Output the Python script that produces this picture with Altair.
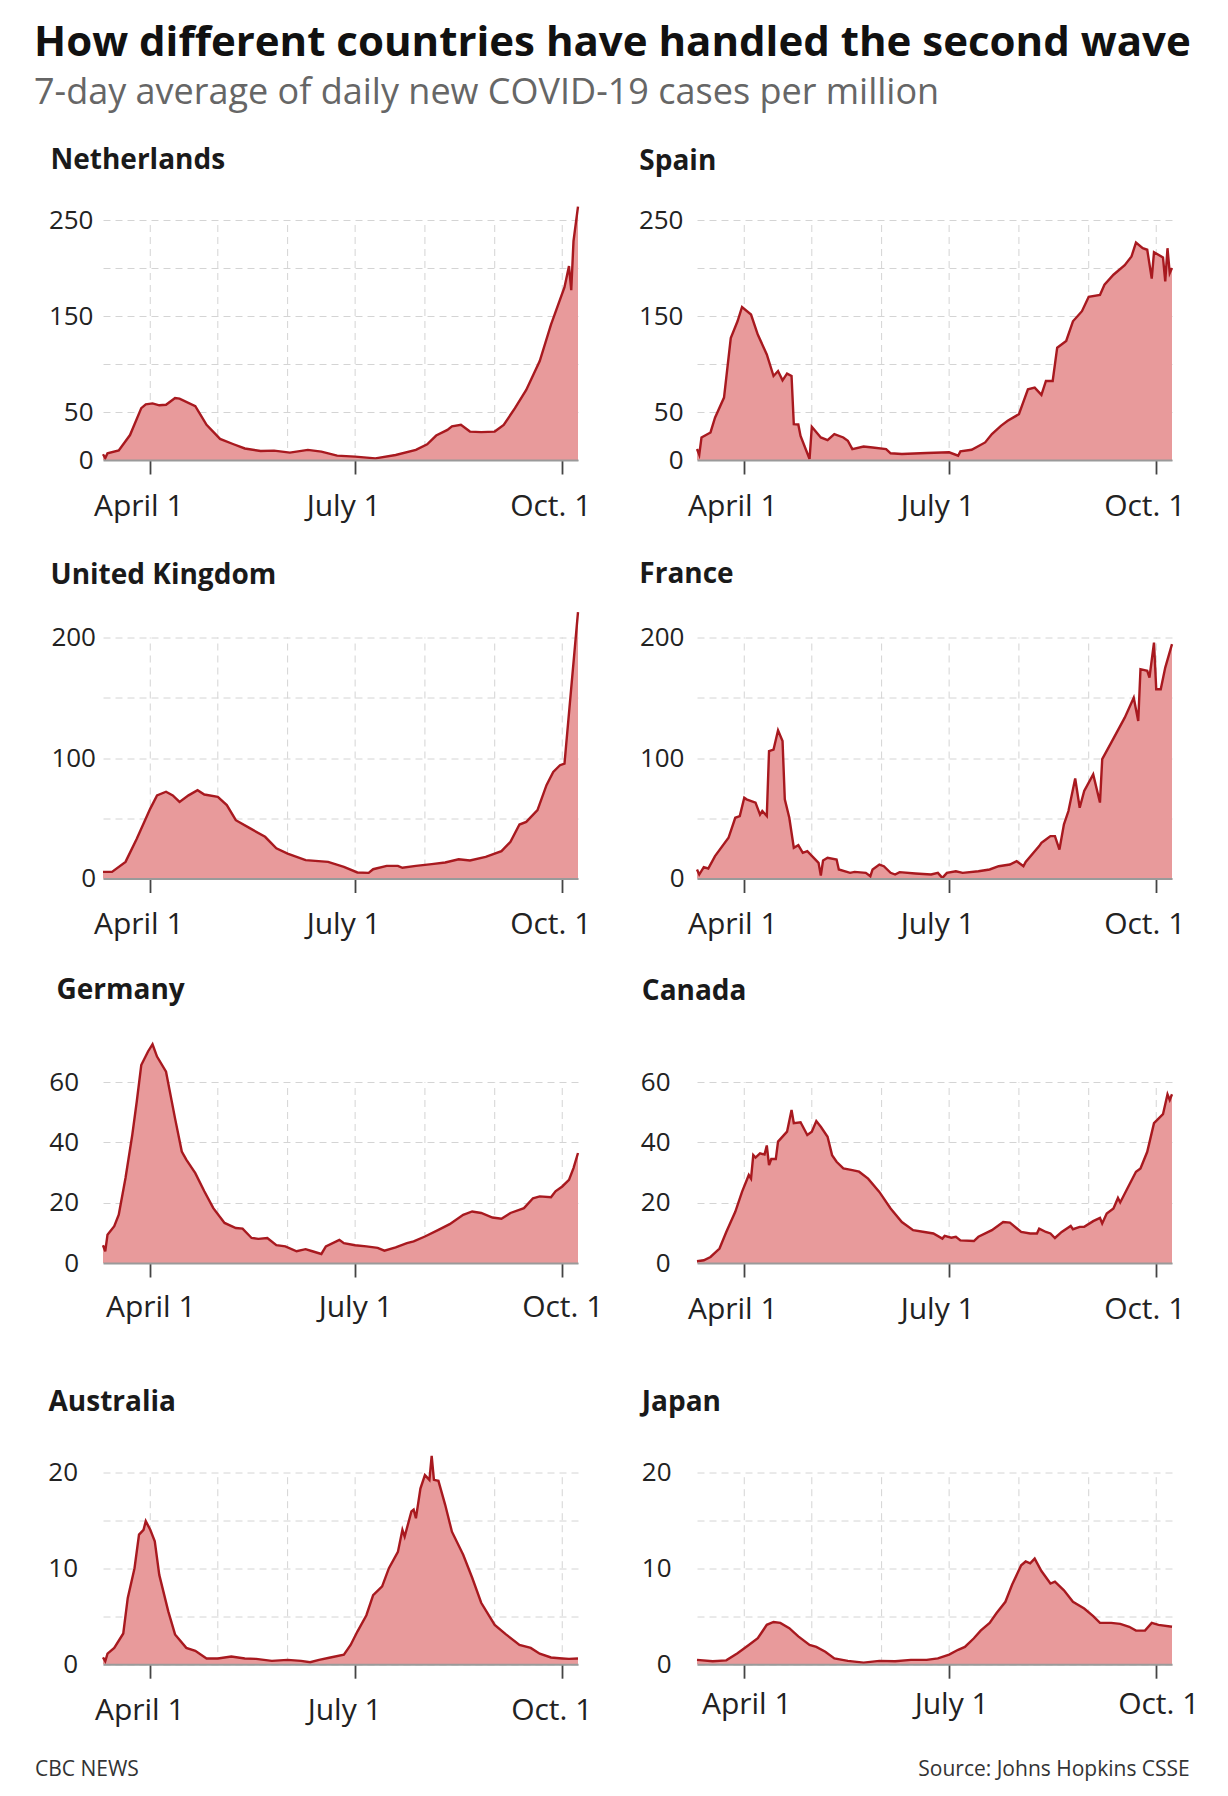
import altair as alt
import pandas as pd

YEAR = "2020-"
X_START = "03-11"
X_END = "10-08"
month_starts = ["04-01", "05-01", "06-01", "07-01", "08-01", "09-01", "10-01"]
tick_dates = ["04-01", "07-01", "10-01"]
tick_labels = ["April 1", "July 1", "Oct. 1"]

nl_dates = ["03-11", "03-12", "03-13", "03-18", "03-23", "03-28", "03-30", "04-02", "04-05", "04-08",
            "04-12", "04-14", "04-21", "04-26", "05-02", "05-08", "05-13", "05-20", "05-26", "06-02",
            "06-10", "06-16", "06-23", "07-01", "07-10", "07-19", "07-28", "08-02", "08-06", "08-11",
            "08-13", "08-17", "08-21", "08-26", "09-01", "09-05", "09-10", "09-15", "09-21", "09-26",
            "10-02", "10-04", "10-05", "10-06", "10-08"]
nl_values = [6, 2, 7, 10, 26, 54, 58, 59, 57, 57.5,
             64.5, 64, 56, 36.6, 22, 16.4, 12, 9.4, 9.8, 7.7,
             10.5, 8.7, 4.5, 3.5, 1.7, 5.2, 10.5, 16.4, 25.5, 31.4,
             35, 36.6, 29.6, 29, 29.6, 36.6, 54, 73, 103, 141,
             180, 202, 177, 228, 264]

es_dates = ["03-11", "03-12", "03-13", "03-17", "03-19", "03-23", "03-26", "03-29", "03-31", "04-04",
            "04-07", "04-11", "04-14", "04-16", "04-18", "04-20", "04-22", "04-23", "04-25", "04-26",
            "04-30", "05-01", "05-05", "05-08", "05-11", "05-15", "05-17", "05-19", "05-24", "05-28",
            "06-03", "06-05", "06-10", "06-21", "07-01", "07-05", "07-06", "07-11", "07-17", "07-20",
            "07-24", "07-27", "08-01", "08-05", "08-08", "08-11", "08-13", "08-16", "08-18", "08-22",
            "08-25", "08-29", "09-01", "09-06", "09-08", "09-12", "09-17", "09-20", "09-22", "09-25",
            "09-27", "09-29", "09-30", "10-04", "10-05", "10-06", "10-07", "10-08"]
es_values = [11.4, 5.5, 23.5, 28.7, 44, 65, 127, 144.5, 159.4, 151.5,
             130.7, 110, 87.5, 92.7, 83, 90, 87.5, 37.3, 37, 25,
             1, 34.6, 23.5, 20.7, 27, 23.5, 20, 11.4, 14, 13,
             11.4, 7, 6.2, 7.3, 8, 4.5, 9, 10.7, 18.3, 27,
             35.6, 40.8, 47.7, 73.6, 75.4, 67.8, 82.3, 82.3, 117, 124,
             144.5, 155, 170, 172, 182.6, 193, 203, 212, 226.5, 220.6,
             219, 189, 216.5, 211, 186, 220.6, 194.7, 200]

uk_dates = ["03-11", "03-15", "03-21", "03-26", "04-01", "04-04", "04-08", "04-11", "04-14", "04-18",
            "04-22", "04-25", "05-01", "05-05", "05-09", "05-15", "05-22", "05-27", "06-01", "06-09",
            "06-19", "06-26", "07-02", "07-07", "07-09", "07-15", "07-20", "07-22", "07-28", "08-04",
            "08-10", "08-16", "08-21", "08-28", "09-04", "09-08", "09-12", "09-15", "09-20", "09-24",
            "09-27", "09-30", "10-02", "10-08"]
uk_values = [5.5, 5.5, 13.8, 33, 58, 69, 72, 69, 63.6, 69,
             73.3, 69.7, 67.8, 60.9, 48.4, 42, 34.6, 25, 20.7, 15.2,
             13.8, 9.7, 5, 4.7, 7.7, 10.5, 10.5, 8.9, 10.5, 11.9,
             13.3, 16, 15, 18, 22.7, 30.4, 44.8, 47, 56.7, 77.5,
             88.5, 94, 95.4, 221]

fr_dates = ["03-11", "03-12", "03-14", "03-16", "03-19", "03-25", "03-28", "03-30", "04-01", "04-02",
            "04-06", "04-08", "04-09", "04-11", "04-12", "04-14", "04-16", "04-18", "04-19", "04-21",
            "04-23", "04-25", "04-27", "04-29", "05-04", "05-05", "05-06", "05-08", "05-12", "05-13",
            "05-18", "05-20", "05-25", "05-27", "05-28", "05-31", "06-02", "06-05", "06-07", "06-09",
            "06-16", "06-23", "06-26", "06-28", "06-30", "07-04", "07-07", "07-14", "07-19", "07-23",
            "07-28", "07-31", "08-03", "08-04", "08-10", "08-11", "08-13", "08-15", "08-17", "08-19",
            "08-21", "08-23", "08-26", "08-28", "08-30", "09-03", "09-06", "09-07", "09-11", "09-17",
            "09-21", "09-23", "09-24", "09-27", "09-28", "09-30", "10-01", "10-03", "10-05", "10-08"]
fr_values = [7.5, 3.3, 9.4, 8.3, 18.6, 33.8, 50.4, 51.8, 67, 65.7,
             63, 53, 56, 51.8, 105.8, 107, 123, 114, 65.7, 50.4,
             25.5, 27.7, 21.3, 22.7, 13, 2.5, 15, 17.2, 15.8, 7.5,
             4.7, 5.5, 4.7, 1.9, 7.5, 11.6, 10.2, 4.7, 3.3, 5.3,
             4.2, 3.3, 4.7, 0.5, 4.7, 6, 4.7, 6, 7.5, 10.2,
             11.6, 14.4, 10.2, 13.8, 26.9, 29.6, 32.4, 35.2, 35.2, 24,
             44.9, 56, 83, 58.7, 72.6, 86.4, 63, 99, 112.7, 133.5,
             150, 130.7, 173.7, 172.3, 166.8, 195.8, 157, 157, 175, 194.5]

de_dates = ["03-11", "03-12", "03-13", "03-16", "03-18", "03-21", "03-24", "03-26", "03-28", "03-31",
            "04-02", "04-04", "04-08", "04-12", "04-15", "04-17", "04-21", "04-25", "04-29", "05-04",
            "05-09", "05-12", "05-16", "05-19", "05-23", "05-27", "05-31", "06-05", "06-09", "06-12",
            "06-16", "06-18", "06-24", "06-26", "07-01", "07-06", "07-11", "07-14", "07-19", "07-24",
            "07-27", "08-01", "08-07", "08-12", "08-18", "08-22", "08-26", "08-31", "09-04", "09-08",
            "09-14", "09-18", "09-21", "09-26", "09-28", "10-01", "10-04", "10-06", "10-08"]
de_values = [5.9, 3.9, 9.4, 12.2, 16, 28.2, 42.5, 53.6, 65.7, 70.2,
             72.6, 68.5, 63.5, 48, 37, 34.3, 29.8, 23.8, 18.2, 13.3,
             11.6, 11.4, 8.3, 8, 8.3, 5.9, 5.5, 3.9, 4.6, 3.9,
             3, 5.5, 7.7, 6.6, 5.9, 5.5, 5, 4.1, 5.2, 6.6,
             7.2, 8.8, 11, 12.9, 16, 17.1, 16.6, 15.1, 14.7, 16.6,
             18.2, 21.5, 22.1, 21.8, 23.8, 25.4, 27.6, 31.5, 36.5]

ca_dates = ["03-11", "03-14", "03-17", "03-21", "03-24", "03-28", "03-31", "04-03", "04-04", "04-05",
            "04-06", "04-08", "04-10", "04-11", "04-12", "04-13", "04-15", "04-16", "04-20", "04-22",
            "04-23", "04-26", "04-29", "05-01", "05-03", "05-05", "05-08", "05-10", "05-12", "05-15",
            "05-19", "05-22", "05-26", "05-31", "06-05", "06-10", "06-15", "06-20", "06-24", "06-28",
            "06-29", "07-02", "07-04", "07-06", "07-12", "07-14", "07-20", "07-25", "07-28", "08-02",
            "08-06", "08-09", "08-10", "08-13", "08-15", "08-17", "08-20", "08-24", "08-25", "08-28",
            "08-30", "09-03", "09-06", "09-07", "09-09", "09-12", "09-14", "09-15", "09-18", "09-22",
            "09-24", "09-27", "09-30", "10-04", "10-06", "10-07", "10-08"]
ca_values = [0.6, 0.9, 2, 4.8, 10.3, 17, 23.6, 29.2, 28, 35.8,
             35, 36.4, 36, 39, 32.5, 34.5, 34.5, 40.3, 43.6, 50.8,
             46.4, 46.7, 42.5, 43.6, 47.1, 45.2, 41.9, 35.8, 33.6, 31.4,
             30.8, 30.3, 28, 23.6, 18.1, 13.6, 10.9, 10.3, 9.8, 8.1,
             9, 8.4, 8.7, 7.5, 7.3, 8.7, 10.9, 13.6, 13.4, 10.3,
             9.8, 9.8, 11.4, 10.3, 9.8, 8.3, 10.3, 12.3, 11.2, 12,
             12, 13.9, 15, 13.1, 16.4, 18.1, 21.6, 20.1, 24.5, 30.3,
             31.4, 36.9, 46.4, 49.4, 56, 54.1, 56]

au_dates = ["03-11", "03-12", "03-13", "03-16", "03-20", "03-22", "03-25", "03-27", "03-29", "03-30",
            "04-01", "04-03", "04-05", "04-09", "04-12", "04-17", "04-21", "04-26", "05-01", "05-07",
            "05-13", "05-18", "05-25", "06-01", "06-07", "06-11", "06-15", "06-20", "06-26", "06-29",
            "07-02", "07-06", "07-09", "07-13", "07-16", "07-20", "07-22", "07-23", "07-26", "07-27",
            "07-28", "07-30", "08-01", "08-03", "08-04", "08-05", "08-07", "08-10", "08-13", "08-18",
            "08-22", "08-26", "09-01", "09-06", "09-12", "09-17", "09-21", "09-26", "10-01", "10-04",
            "10-08"]
au_values = [0.7, 0.3, 1.1, 1.7, 3.2, 6.9, 10, 13.5, 14, 14.9,
             14, 12.8, 9.3, 5.5, 3.1, 1.7, 1.4, 0.6, 0.6, 0.8,
             0.6, 0.55, 0.35, 0.45, 0.35, 0.2, 0.45, 0.7, 1, 2,
             3.4, 5.1, 7.2, 8.1, 10, 11.7, 14, 13.3, 15.9, 16.1,
             15.2, 18.3, 19.7, 19.2, 21.7, 19.2, 19.1, 16.6, 13.8, 11.4,
             9, 6.4, 4.1, 3.1, 2, 1.7, 1.1, 0.7, 0.6, 0.55,
             0.6]

jp_dates = ["03-11", "03-18", "03-24", "03-29", "04-03", "04-07", "04-11", "04-14", "04-17", "04-21",
            "04-25", "04-30", "05-03", "05-07", "05-11", "05-17", "05-24", "05-31", "06-07", "06-14",
            "06-21", "06-26", "07-01", "07-05", "07-08", "07-12", "07-15", "07-19", "07-22", "07-26",
            "07-29", "08-02", "08-04", "08-06", "08-08", "08-11", "08-15", "08-17", "08-21", "08-25",
            "08-30", "09-03", "09-06", "09-11", "09-15", "09-19", "09-22", "09-26", "09-29", "10-02",
            "10-08"]
jp_values = [0.45, 0.3, 0.4, 1.15, 2, 2.7, 4.1, 4.4, 4.3, 3.75,
             2.9, 2, 1.8, 1.3, 0.6, 0.35, 0.17, 0.35, 0.3, 0.45,
             0.45, 0.6, 1, 1.5, 1.8, 2.7, 3.5, 4.3, 5.3, 6.5,
             8.3, 10.3, 10.7, 10.5, 11, 9.7, 8.4, 8.6, 7.7, 6.5,
             5.8, 5, 4.3, 4.3, 4.2, 3.9, 3.5, 3.5, 4.3, 4.1,
             3.9]

FILL = "#e89a9b"
LINE = "#a8191f"
GRID = "#d4d4d4"
FONT = "Open Sans"
PLOT_W = 475


def iso(md):
    return YEAR + md + "T00:00:00"


def dt(md):
    m, d = md.split("-")
    return alt.DateTime(year=2020, month=int(m), date=int(d))


x_label_expr = " : ".join(
    f"month(datum.value) == {int(d.split('-')[0]) - 1} ? '{lab}'" for d, lab in zip(tick_dates[:-1], tick_labels[:-1])
) + f" : '{tick_labels[-1]}'"


def panel(name, dates, values, grid_vals, label_vals, ymax, height, title_dx, title_offset,
          ylab_pad, xlab_dx, xlab_pad, footer=None, footer_x=0, footer_align="left"):
    df = pd.DataFrame({"date": [iso(d) for d in dates], "value": values})
    months = pd.DataFrame({"date": [iso(d) for d in month_starts],
                           "value": [0] * len(month_starts),
                           "hi": [grid_vals[-1]] * len(month_starts)})
    xscale = alt.Scale(domain=[dt(X_START), dt(X_END)], nice=False)
    yscale = alt.Scale(domain=[0, ymax], nice=False, zero=True)

    label_test = " || ".join(f"datum.value == {v}" for v in label_vals)
    xaxis_kwargs = dict(
        values=[dt(d) for d in tick_dates], labelExpr=x_label_expr, grid=False,
        domain=True, domainColor="#9a9a9a", domainWidth=2,
        ticks=True, tickSize=14, tickColor="#444", tickWidth=1.8,
        labelFontSize=30, labelFont=FONT, labelColor="#222",
        labelPadding=xlab_pad, labelOffset=xlab_dx, labelBaseline="middle",
        labelFlush=False, labelOverlap=False, zindex=1,
    )
    if footer:
        xaxis_kwargs.update(titleX=footer_x, titleY=105, titleAlign=footer_align, titleBaseline="middle",
                            titleFontSize=21, titleFontWeight="normal", titleColor="#333", titleFont=FONT)
    xaxis = alt.Axis(**xaxis_kwargs)
    yaxis = alt.Axis(
        values=grid_vals, labelExpr=f"({label_test}) ? datum.label : ''",
        grid=True, gridColor=GRID, gridDash=[7, 5], gridWidth=1,
        domain=False, ticks=False, labelFontSize=26, labelFont=FONT, labelColor="#222",
        labelPadding=ylab_pad, zindex=0)
    xtitle = footer if footer else None

    vgrid = alt.Chart(months).mark_rule(color=GRID, strokeDash=[7, 5], strokeWidth=1).encode(
        x=alt.X("date:T", scale=xscale, title=xtitle, axis=xaxis),
        y=alt.Y("value:Q", scale=yscale, title=None, axis=yaxis),
        y2="hi:Q",
    )

    area = alt.Chart(df).mark_area(
        color=FILL, opacity=1, line=alt.OverlayMarkDef(color=LINE, strokeWidth=2.4)
    ).encode(
        x=alt.X("date:T", scale=xscale, title=xtitle, axis=xaxis),
        y=alt.Y("value:Q", scale=yscale, title=None, axis=yaxis),
    )

    return alt.layer(vgrid, area).properties(
        width=PLOT_W, height=height,
        title=alt.TitleParams(text=name, anchor="start", frame="group", dx=title_dx, offset=title_offset,
                              fontSize=28, font=FONT, fontWeight="bold", color="#1a1a1a"),
    )


panels = [
    panel("Netherlands", nl_dates, nl_values, [0, 50, 100, 150, 200, 250], [0, 50, 150, 250], 250, 240,
          -52.5, 26.5, 10, -12, 32),
    panel("Spain", es_dates, es_values, [0, 50, 100, 150, 200, 250], [0, 50, 150, 250], 250, 240,
          -57.7, 31.5, 14, -12, 32),
    panel("United Kingdom", uk_dates, uk_values, [0, 50, 100, 150, 200], [0, 100, 200], 200, 241,
          -52.5, 17.5, 7.5, -12, 32),
    panel("France", fr_dates, fr_values, [0, 50, 100, 150, 200], [0, 100, 200], 200, 241,
          -57.7, 35.5, 13, -12, 32),
    panel("Germany", de_dates, de_values, [0, 20, 40, 60], [0, 20, 40, 60], 68.7, 207,
          -46.5, 34.5, 24.5, 0, 30),
    panel("Canada", ca_dates, ca_values, [0, 20, 40, 60], [0, 20, 40, 60], 68.7, 207,
          -55.2, 50, 27, -12, 32),
    panel("Australia", au_dates, au_values, [0, 5, 10, 15, 20], [0, 10, 20], 23.3, 223.7,
          -54.5, 24, 25.5, -11, 32, footer="CBC NEWS", footer_x=-68.5, footer_align="left"),
    panel("Japan", jp_dates, jp_values, [0, 5, 10, 15, 20], [0, 10, 20], 23.3, 223.7,
          -55.2, 24, 26, 2, 26, footer="Source: Johns Hopkins CSSE", footer_x=492.3, footer_align="right"),
]

chart = alt.concat(
    *panels, columns=2, spacing={"row": 177.5, "column": 119}, bounds="flush", align="each"
).properties(
    title=alt.TitleParams(
        text="How different countries have handled the second wave",
        subtitle="7-day average of daily new COVID-19 cases per million",
        anchor="start", frame="bounds", offset=35, fontSize=42, font=FONT, fontWeight="bold", color="#111",
        subtitleFontSize=36, subtitleFont=FONT, subtitleColor="#666", subtitlePadding=11,
    ),
    padding={"left": 26, "top": 13, "right": 10, "bottom": 10},
    background="white",
).configure_view(stroke="transparent")

chart.save("out.html", embed_options={"renderer": "svg", "actions": False})
